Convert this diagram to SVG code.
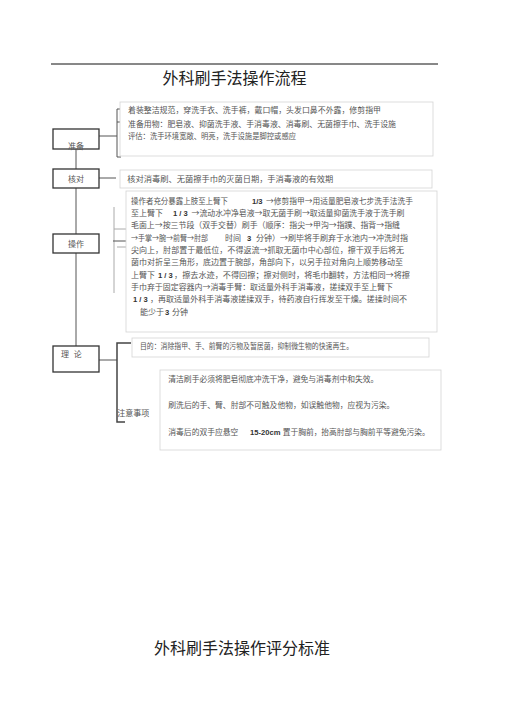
<svg xmlns="http://www.w3.org/2000/svg" width="505" height="714" viewBox="0 0 505 714">
<style>
.t{font-family:"Noto Sans CJK SC","Noto Sans",sans-serif;font-size:8px;fill:#555}
.lat{font-family:"Liberation Sans",Arial,sans-serif;font-size:7.6px;font-weight:bold;fill:#333}
.title{font-family:"Noto Sans CJK SC","Noto Sans",sans-serif;font-size:16px;fill:#222}
.lab{font-family:"Noto Sans CJK SC",sans-serif;font-size:8px;fill:#555;text-anchor:middle}
.nb{fill:#fff;stroke:#333;stroke-width:1.3}
.cb{fill:#fff;stroke:#d4d4d4;stroke-width:0.8}
.ln{fill:none;stroke:#555;stroke-width:1}
.lg{fill:none;stroke:#aaa;stroke-width:1}
.ld{fill:none;stroke:#444;stroke-width:1.5}
</style>
<rect width="505" height="714" fill="#fff"/>
<line x1="51" y1="64" x2="438" y2="64" stroke="#111" stroke-width="1"/>
<text class="title" x="234.5" y="84" text-anchor="middle">外科刷手法操作流程</text>
<text class="title" x="242" y="654" text-anchor="middle">外科刷手法操作评分标准</text>

<g id="connectors">
<line class="ln" x1="76" y1="149" x2="76" y2="169"/>
<line class="ln" x1="76" y1="188" x2="76" y2="234"/>
<line class="ln" x1="76" y1="253" x2="76" y2="346"/>
<!-- 准备 bracket -->
<line class="ln" x1="99" y1="136" x2="117" y2="136"/>
<polyline class="ln" points="121,109 117,109 117,157 121,157"/>
<line class="ln" x1="117" y1="122" x2="121" y2="122"/>
<!-- 核对 -->
<line class="ln" x1="99" y1="178" x2="116" y2="178"/>
<!-- 操作 bracket -->
<line class="lg" x1="114" y1="207" x2="114" y2="293"/>
<line class="lg" x1="114" y1="229" x2="126" y2="229"/>
<line class="ln" x1="113" y1="241" x2="130" y2="241"/>
<line class="lg" x1="117" y1="247" x2="126" y2="247"/>
<!-- 理论 bracket -->
<line class="ln" x1="99" y1="360" x2="117" y2="360"/>
<polyline class="ld" points="131,343 117,343 117,422 125,422"/>
</g>

<g id="node-zhunbei">
<rect class="nb" x="53" y="129" width="46" height="20"/>
<text class="lab" x="76" y="148.5">准备</text>
</g>
<g id="node-hedui">
<rect class="nb" x="53" y="169" width="46" height="19"/>
<text class="lab" x="76" y="181.5">核对</text>
</g>
<g id="node-caozuo">
<rect class="nb" x="53" y="234" width="46" height="19"/>
<text class="lab" x="76" y="246.5">操作</text>
</g>
<g id="node-lilun">
<rect class="nb" x="53" y="346" width="46" height="26"/>
<text class="t" x="61" y="356.5" letter-spacing="1.5">理 论</text>
</g>

<g id="content-zhunbei">
<rect class="cb" x="120" y="102" width="313" height="54"/>
<text class="t" x="128" y="112.5" textLength="253" lengthAdjust="spacingAndGlyphs">着装整洁规范，穿洗手衣、洗手裤，戴口帽，头发口鼻不外露，修剪指甲</text>
<text class="t" x="128" y="127.3" textLength="268" lengthAdjust="spacingAndGlyphs">准备用物：肥皂液、抑菌洗手液、手消毒液、消毒刷、无菌擦手巾、洗手设施</text>
<text class="t" x="128" y="138.7" textLength="168" lengthAdjust="spacingAndGlyphs">评估：洗手环境宽敞、明亮，洗手设施是脚控或感应</text>
</g>

<g id="content-hedui">
<rect class="cb" x="120" y="170" width="312" height="18"/>
<text class="t" x="127.3" y="181.5" textLength="206" lengthAdjust="spacingAndGlyphs">核对消毒刷、无菌擦手巾的灭菌日期，手消毒液的有效期</text>
</g>

<g id="content-caozuo">
<rect class="cb" x="126" y="191" width="311" height="141"/>
<text class="t" x="131" y="203.7" textLength="97" lengthAdjust="spacingAndGlyphs">操作者充分暴露上肢至上臂下</text>
<text class="lat" x="252" y="203.7">1/3</text>
<text class="t" x="266" y="203.7" textLength="147" lengthAdjust="spacingAndGlyphs">→修剪指甲→用适量肥皂液七步洗手法洗手</text>

<text class="t" x="131" y="216">至上臂下</text>
<text class="lat" x="173" y="216">1 / 3</text>
<text class="t" x="191.5" y="216" textLength="213" lengthAdjust="spacingAndGlyphs">→流动水冲净皂液→取无菌手刷→取适量抑菌洗手液于洗手刷</text>

<text class="t" x="131" y="228.3" textLength="269" lengthAdjust="spacingAndGlyphs">毛面上→按三节段（双手交替）刷手（顺序：指尖→甲沟→指蹼、指背→指缝</text>

<text class="t" x="131" y="240.7" textLength="77" lengthAdjust="spacingAndGlyphs">→手掌→腕→前臂→肘部</text>
<text class="t" x="225" y="240.7">时间</text>
<text class="lat" x="247" y="240.7">3</text>
<text class="t" x="256" y="240.7" textLength="152" lengthAdjust="spacingAndGlyphs">分钟）→刷毕将手刷弃于水池内→冲洗时指</text>

<text class="t" x="131" y="253" textLength="273" lengthAdjust="spacingAndGlyphs">尖向上，肘部置于最低位，不得返流→抓取无菌巾中心部位，擦干双手后将无</text>
<text class="t" x="131" y="265.3" textLength="272" lengthAdjust="spacingAndGlyphs">菌巾对折呈三角形，底边置于腕部，角部向下，以另手拉对角向上顺势移动至</text>

<text class="t" x="131" y="277.7">上臂下</text>
<text class="lat" x="158" y="277.7">1 / 3</text>
<text class="t" x="174" y="277.7" textLength="236" lengthAdjust="spacingAndGlyphs">，擦去水迹，不得回擦；擦对侧时，将毛巾翻转，方法相同→将擦</text>

<text class="t" x="131" y="290" textLength="262" lengthAdjust="spacingAndGlyphs">手巾弃于固定容器内→消毒手臂：取适量外科手消毒液，搓揉双手至上臂下</text>

<text class="lat" x="133" y="302.3">1 / 3</text>
<text class="t" x="150" y="302.3" textLength="257" lengthAdjust="spacingAndGlyphs">，再取适量外科手消毒液搓揉双手，待药液自行挥发至干燥。搓揉时间不</text>

<text class="t" x="140" y="314.7">能少于</text>
<text class="lat" x="165" y="314.7">3</text>
<text class="t" x="172" y="314.7">分钟</text>
</g>

<g id="content-mudi">
<rect class="cb" x="132" y="338" width="297" height="19"/>
<text class="t" x="140" y="349.3" textLength="213" lengthAdjust="spacingAndGlyphs">目的：消除指甲、手、前臂的污物及暂居菌，抑制微生物的快速再生。</text>
</g>

<g id="node-zhuyi">
<text class="t" x="117.3" y="415.7">注意事项</text>
</g>

<g id="content-zhuyi">
<rect class="cb" x="160" y="370" width="281" height="80"/>
<text class="t" x="168.3" y="382.3" textLength="210" lengthAdjust="spacingAndGlyphs">清洁刷手必须将肥皂彻底冲洗干净，避免与消毒剂中和失效。</text>
<text class="t" x="168.3" y="408" textLength="226" lengthAdjust="spacingAndGlyphs">刷洗后的手、臂、肘部不可触及他物，如误触他物，应视为污染。</text>
<text class="t" x="168.3" y="434.7" textLength="70" lengthAdjust="spacingAndGlyphs">消毒后的双手应悬空</text>
<text class="lat" x="250" y="434.7">15-20cm</text>
<text class="t" x="282.7" y="434.7" textLength="147" lengthAdjust="spacingAndGlyphs">置于胸前，抬高肘部与胸前平等避免污染。</text>
</g>
</svg>
